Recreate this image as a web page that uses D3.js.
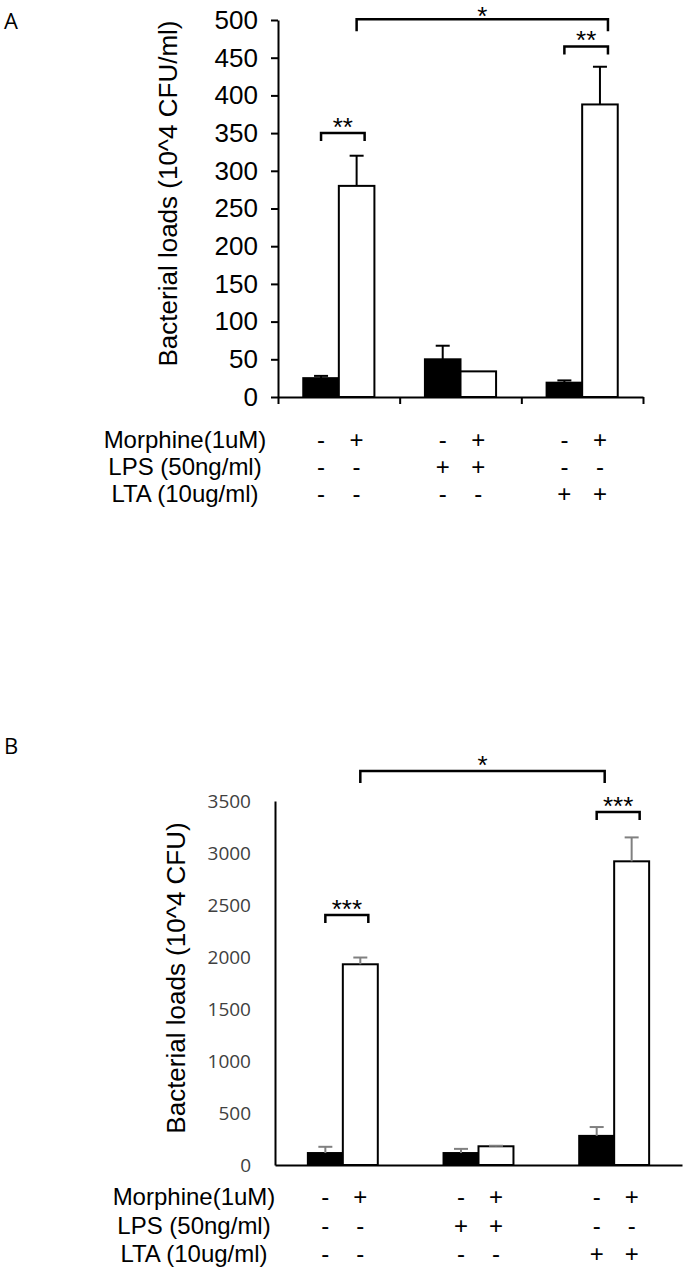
<!DOCTYPE html>
<html>
<head>
<meta charset="utf-8">
<script src="https://cdn.jsdelivr.net/npm/d3@7"></script>
<style>
  body { margin: 0; background: #fff; }
  text { font-family: "Liberation Sans", Arial, sans-serif; }
</style>
</head>
<body>
<script>
// data
var groups = ["Control", "LPS", "LTA"];
var morphine = ["-", "+"];

// panel A: bacterial loads (10^4 CFU/ml), mean and error, [no morphine, morphine]
var loadsA = [[25, 280], [50, 34], [19, 388]];
var errA = [[3, 40], [18, 0], [3, 50]];
var ticksA = [0, 50, 100, 150, 200, 250, 300, 350, 400, 450, 500];

// panel B: bacterial loads (10^4 CFU)
var loadsB = [[115, 1930], [115, 180], [280, 2920]];
var errB = [[60, 65], [40, 5], [85, 230]];
var ticksB = [0, 500, 1000, 1500, 2000, 2500, 3000, 3500];

// treatment table under each chart
var rowLabels = ["Morphine(1uM)", "LPS (50ng/ml)", "LTA (10ug/ml)"];
var signs = [
  ["-", "+", "-", "+", "-", "+"],
  ["-", "-", "+", "+", "-", "-"],
  ["-", "-", "-", "-", "+", "+"]
];

// significance brackets: bar [group, morphine index] to bar, level in data units
var bracketsA = [
  {a: [0, 0], b: [0, 1], level: 350, label: "**"},
  {a: [2, 0], b: [2, 1], level: 465, label: "**"},
  {a: [0, 1], b: [2, 1], level: 501, label: "*"}
];
var bracketsB = [
  {a: [0, 0], b: [0, 1], level: 2404, label: "***"},
  {a: [2, 0], b: [2, 1], level: 3394, label: "***"},
  {a: [0, 1], b: [2, 0], level: 3788, label: "*"}
];

var svg = d3.select("body")
  .append("svg")
  .attr("width", 685)
  .attr("height", 1271);

function drawPanel(p) {
  var g = svg.append("g");

  var x = d3.scaleBand().domain(groups).range([p.x0, p.x1]);
  var xs = d3.scaleBand().domain(morphine).range([0, x.bandwidth()]).paddingOuter(p.pad);
  var y = d3.scaleLinear().domain([0, p.max]).range([p.y0, p.y1]);

  var barCenter = function(ref) {
    return x(groups[ref[0]]) + xs(morphine[ref[1]]) + xs.bandwidth() / 2;
  };

  var rows = [];
  p.loads.forEach(function(vals, i) {
    vals.forEach(function(v, j) {
      rows.push({group: groups[i], m: morphine[j], v: v, e: p.err[i][j]});
    });
  });

  // bars
  g.selectAll("rect.bar")
    .data(rows)
    .enter()
    .append("rect")
    .attr("class", "bar")
    .attr("x", d => x(d.group) + xs(d.m))
    .attr("y", d => y(d.v))
    .attr("width", xs.bandwidth())
    .attr("height", d => y(0) - y(d.v))
    .attr("fill", d => d.m === "-" ? "#000" : "#fff")
    .attr("stroke", "#000")
    .attr("stroke-width", 2);

  // error bars (upper only)
  var eb = g.selectAll("g.err")
    .data(rows.filter(d => d.e > 0))
    .enter()
    .append("g")
    .attr("class", "err")
    .attr("stroke", p.errColor)
    .attr("stroke-width", 2);
  eb.append("line")
    .attr("x1", d => x(d.group) + xs(d.m) + xs.bandwidth() / 2)
    .attr("x2", d => x(d.group) + xs(d.m) + xs.bandwidth() / 2)
    .attr("y1", d => y(d.v))
    .attr("y2", d => y(d.v + d.e));
  eb.append("line")
    .attr("x1", d => x(d.group) + xs(d.m) + xs.bandwidth() / 2 - 7)
    .attr("x2", d => x(d.group) + xs(d.m) + xs.bandwidth() / 2 + 7)
    .attr("y1", d => y(d.v + d.e))
    .attr("y2", d => y(d.v + d.e));

  // y axis
  var yAxis = d3.axisLeft(y)
    .tickValues(p.ticks)
    .tickFormat(d3.format("d"))
    .tickSize(p.tickSize)
    .tickPadding(p.tickPadding)
    .tickSizeOuter(0);
  var ya = g.append("g")
    .attr("transform", `translate(${p.x0}, 0)`)
    .call(yAxis);
  ya.select(".domain").attr("stroke", "#000").attr("stroke-width", 2);
  ya.selectAll(".tick line").attr("stroke", "#000").attr("stroke-width", 2);
  ya.selectAll(".tick text")
    .attr("fill", p.tickColor)
    .style("font-family", p.tickFont)
    .style("font-size", p.tickFontSize + "px");

  // x axis: group boundaries as ticks
  var xb = d3.scaleLinear().domain([0, groups.length]).range([p.x0, p.x1]);
  var xa = g.append("g")
    .attr("transform", `translate(0, ${p.y0})`)
    .call(d3.axisBottom(xb).tickValues(p.xTicks ? [0, 1, 2, 3] : []).tickSize(7).tickSizeOuter(0).tickFormat(""));
  xa.select(".domain").attr("stroke", "#000").attr("stroke-width", 2);
  xa.selectAll(".tick line").attr("stroke", "#000").attr("stroke-width", 2);

  // axis title
  g.append("text")
    .attr("transform", `translate(${p.titleX}, ${(p.y0 + p.y1) / 2 + p.titleDy}) rotate(-90)`)
    .attr("text-anchor", "middle")
    .style("font-size", "26px")
    .text(p.title);

  // brackets
  p.brackets.forEach(function(b) {
    var xa0 = barCenter(b.a);
    var xa1 = barCenter(b.b) + 8;
    var yl = y(b.level);
    var leg = b.label === "*" ? 12 : 8;
    g.append("path")
      .attr("d", `M${xa0},${yl + leg}V${yl}H${xa1}V${yl + leg}`)
      .attr("fill", "none")
      .attr("stroke", "#000")
      .attr("stroke-width", 2.5);
    g.append("text")
      .attr("x", (xa0 + xa1) / 2)
      .attr("y", Math.max(yl + 3, 25))
      .attr("text-anchor", "middle")
      .style("font-size", "26px")
      .text(b.label);
  });

  // treatment table
  rowLabels.forEach(function(lab, r) {
    var ty = p.tableY + r * p.rowStep;
    g.append("text")
      .attr("x", p.labelX)
      .attr("y", ty)
      .attr("text-anchor", "middle")
      .style("font-size", "24px")
      .text(lab);
    g.selectAll(null)
      .data(signs[r])
      .enter()
      .append("text")
      .attr("x", (d, k) => barCenter([Math.floor(k / 2), k % 2]))
      .attr("y", ty)
      .attr("text-anchor", "middle")
      .style("font-size", "24px")
      .text(d => d);
  });

  // panel letter
  g.append("text")
    .attr("x", 4)
    .attr("y", p.letterY)
    .style("font-family", "'Open Sans', sans-serif")
    .style("font-size", "22px")
    .text(p.letter);
}

drawPanel({
  letter: "A", letterY: 29,
  x0: 278, x1: 643, pad: 0.71,
  y0: 397, y1: 20, max: 500,
  loads: loadsA, err: errA, ticks: ticksA,
  errColor: "#000",
  tickSize: 7, tickPadding: 13, tickColor: "#000",
  tickFont: "'Liberation Sans', Arial, sans-serif", tickFontSize: 26,
  xTicks: true,
  title: "Bacterial loads (10^4 CFU/ml)", titleX: 177, titleDy: -15,
  brackets: bracketsA,
  tableY: 448, rowStep: 27, labelX: 185
});

drawPanel({
  letter: "B", letterY: 754,
  x0: 275, x1: 682, pad: 0.94,
  y0: 1165, y1: 801, max: 3500,
  loads: loadsB, err: errB, ticks: ticksB,
  errColor: "#808080",
  tickSize: 0, tickPadding: 24, tickColor: "#404040",
  tickFont: "'Open Sans', sans-serif", tickFontSize: 19,
  xTicks: false,
  title: "Bacterial loads (10^4 CFU)", titleX: 185, titleDy: -5,
  brackets: bracketsB,
  tableY: 1205, rowStep: 28.5, labelX: 194
});
</script>
</body>
</html>
